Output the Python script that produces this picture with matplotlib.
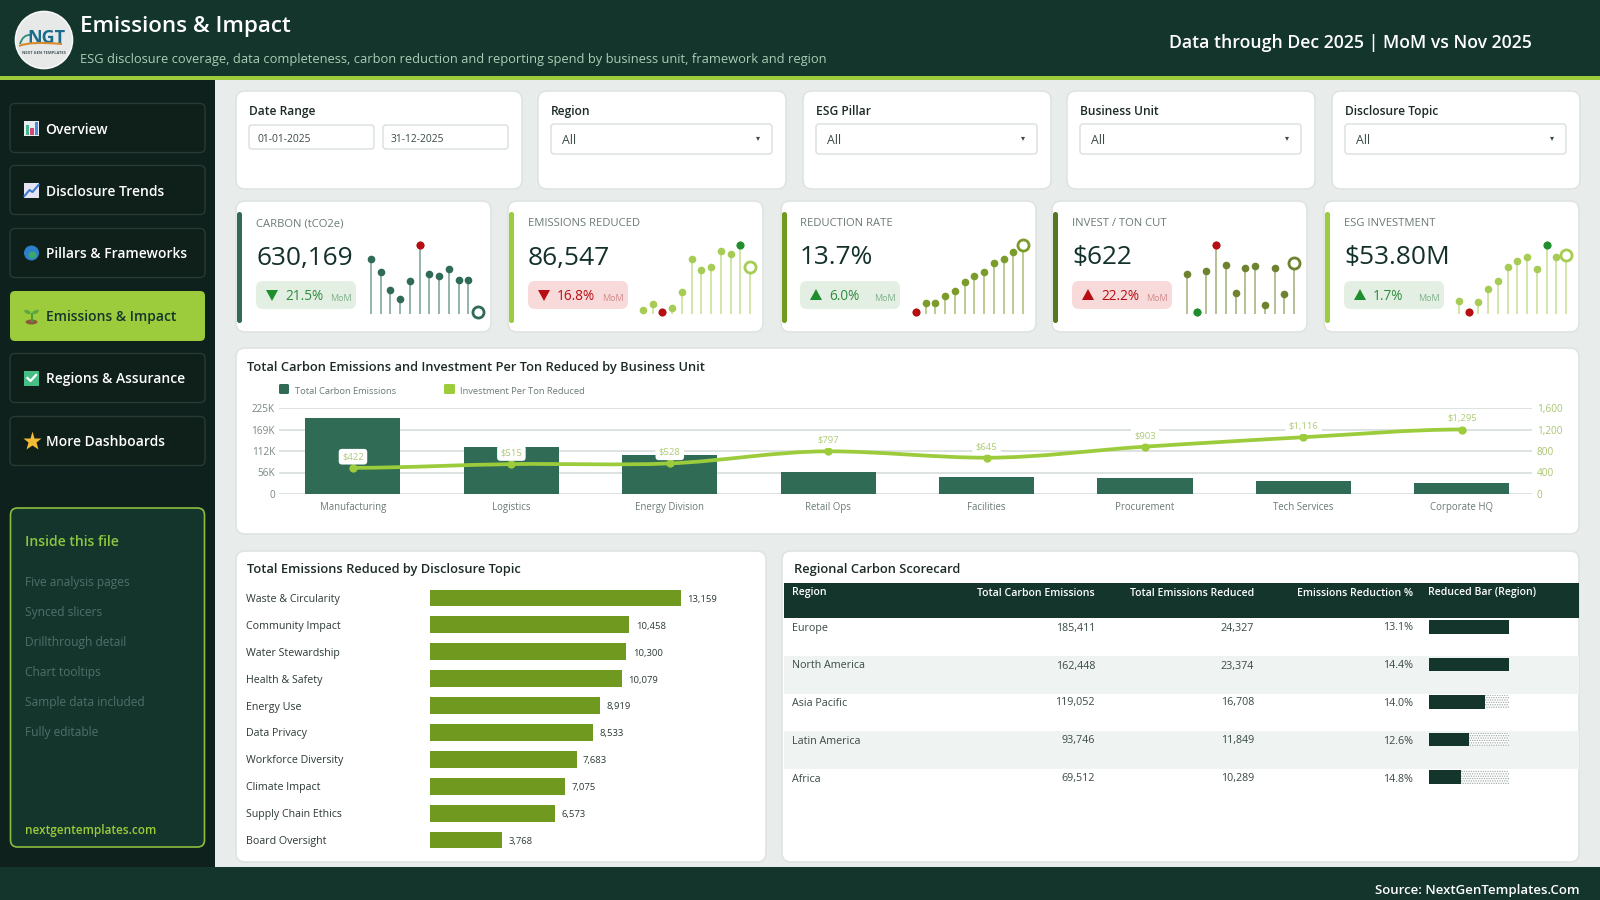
import matplotlib
matplotlib.use("Agg")
import matplotlib.pyplot as plt
from matplotlib.patches import FancyBboxPatch, Rectangle, Circle, Ellipse, Polygon, PathPatch
from matplotlib.path import Path

plt.rcParams["font.family"] = ["Open Sans", "Noto Sans", "DejaVu Sans"]
plt.rcParams["hatch.linewidth"] = 0.6

W, H = 1600, 900

DARK = "#14352C"
SIDE = "#0F211C"
LIME = "#9CCB3B"
OLIVE = "#6F9A1F"
MOSS = "#55771F"
TEAL = "#2F6B55"
RED = "#B80D12"
GREEN = "#1E8E2E"
GREY = "#6B7A75"

# sidebar
nav_labels = ["Overview", "Disclosure Trends", "Pillars & Frameworks", "Emissions & Impact", "Regions & Assurance", "More Dashboards"]
panel_items = ["Five analysis pages", "Synced slicers", "Drillthrough detail", "Chart tooltips", "Sample data included", "Fully editable"]

# slicers
filter_labels = ["Region", "ESG Pillar", "Business Unit", "Disclosure Topic"]

# kpi cards
kpi_labels = ["CARBON (tCO2e)", "EMISSIONS REDUCED", "REDUCTION RATE", "INVEST / TON CUT", "ESG INVESTMENT"]
kpi_values = ["630,169", "86,547", "13.7%", "$622", "$53.80M"]
kpi_changes = ["21.5%", "16.8%", "6.0%", "22.2%", "1.7%"]
kpi_arrow_up = [False, False, True, True, True]
kpi_good = [True, False, True, False, True]

# sparkline heights (relative units, 12 months)
carbon_spark = [165, 125, 73, 46, 100, 205, 118, 114, 133, 102, 102, 6]
reduced_spark = [13, 30, 6, 18, 66, 163, 130, 140, 188, 180, 205, 139]
rate_spark = [6, 32, 33, 55, 70, 96, 114, 125, 151, 165, 186, 206]
invest_spark = [120, 6, 129, 205, 147, 63, 138, 142, 28, 137, 59, 152]
esg_spark = [38, 6, 35, 76, 99, 139, 158, 170, 135, 205, 171, 176]

# combo chart
units = ["Manufacturing", "Logistics", "Energy Division", "Retail Ops", "Facilities", "Procurement", "Tech Services", "Corporate HQ"]
unit_emissions = [199000, 122000, 103000, 57000, 45000, 41000, 34000, 29000]
unit_invest_pos = [487, 556, 569, 794, 675, 881, 1056, 1200]
unit_invest_labels = ["$422", "$515", "$528", "$797", "$645", "$903", "$1,116", "$1,295"]
left_ticks = [0, 56250, 112500, 168750, 225000]
left_tick_labels = ["0", "56K", "112K", "169K", "225K"]
right_ticks = [0, 400, 800, 1200, 1600]
right_tick_labels = ["0", "400", "800", "1,200", "1,600"]

# topic bars
topics = ["Waste & Circularity", "Community Impact", "Water Stewardship", "Health & Safety", "Energy Use",
          "Data Privacy", "Workforce Diversity", "Climate Impact", "Supply Chain Ethics", "Board Oversight"]
topic_reduced = [13159, 10458, 10300, 10079, 8919, 8533, 7683, 7075, 6573, 3768]

# scorecard
regions = ["Europe", "North America", "Asia Pacific", "Latin America", "Africa"]
region_carbon = ["185,411", "162,448", "119,052", "93,746", "69,512"]
region_reduced = ["24,327", "23,374", "16,708", "11,849", "10,289"]
region_pct = ["13.1%", "14.4%", "14.0%", "12.6%", "14.8%"]
region_bar = [1.0, 1.0, 0.70, 0.50, 0.40]


def fs(px):
    return px * 0.72


fig = plt.figure(figsize=(16, 9), dpi=100, facecolor="#E8ECEA")
bg = fig.add_axes([0, 0, 1, 1])
bg.set_xlim(0, W)
bg.set_ylim(H, 0)
bg.axis("off")


def px_axes(x0, y0, x1, y1):
    ax = fig.add_axes([x0 / W, 1 - y1 / H, (x1 - x0) / W, (y1 - y0) / H])
    ax.patch.set_alpha(0)
    return ax


def box(x0, y0, x1, y1, fc, ec="none", r=8, lw=1.0, z=1):
    bg.add_patch(FancyBboxPatch((x0, y0), x1 - x0, y1 - y0, boxstyle=f"round,pad=0,rounding_size={r}",
                                fc=fc, ec=ec, lw=lw, zorder=z))


def rect(x0, y0, x1, y1, fc, z=1, **kw):
    bg.add_patch(Rectangle((x0, y0), x1 - x0, y1 - y0, fc=fc, ec="none", zorder=z, **kw))


# open sans sits a bit high with va=center, hence the 1.5
def txt(x, y, s, px, color="#1C2B27", weight="normal", ha="left", z=5):
    bg.text(x, y + 1.5, s, fontsize=fs(px), color=color, weight=weight, ha=ha, va="center", zorder=z)


def card(x0, y0, x1, y1):
    box(x0, y0, x1, y1, "white", ec="#DFE4E1", r=9, lw=1.2)


# frame
rect(0, 0, W, 76, DARK)
rect(0, 76, W, 80, LIME)
rect(0, 80, 215, 867, SIDE)
rect(0, 867, W, H, DARK)

# logo
bg.add_patch(Circle((44, 40), 28.5, fc="#E6E9E8", ec="#F6F7F7", lw=1.2, zorder=3))
bg.text(46, 38, "NGT", fontsize=fs(18), weight="bold", color="#1B6B8E", ha="center", va="center", zorder=5)
swoosh = Path([(19, 46), (30, 41), (62, 44)], [Path.MOVETO, Path.CURVE3, Path.CURVE3])
bg.add_patch(PathPatch(swoosh, fc="none", ec="#D98A2B", lw=1.5, zorder=6))
swoosh2 = Path([(20, 44), (23, 34), (31, 35)], [Path.MOVETO, Path.CURVE3, Path.CURVE3])
bg.add_patch(PathPatch(swoosh2, fc="none", ec="#2E8C7A", lw=1.3, zorder=4))
bg.text(44, 53, "NEXT GEN TEMPLATES", fontsize=fs(4), weight="bold", color="#44545A", ha="center", va="center", zorder=5)

# header text
txt(80, 25, "Emissions & Impact", 22.4, "white", 600)
txt(80, 58, "ESG disclosure coverage, data completeness, carbon reduction and reporting spend by business unit, framework and region", 12.95, "#A9CDB5")
txt(1532, 42, "Data through Dec 2025 | MoM vs Nov 2025", 17.6, "white", 600, ha="right")
txt(1580, 889, "Source: NextGenTemplates.Com", 13.2, "white", 600, ha="right")


# little nav icons, no colour emoji font here
def nav_icon(i, cx, cy):
    if i == 0:
        rect(cx - 7.5, cy - 7.5, cx + 7.5, cy + 7.5, "#E9EEF2", z=4)
        rect(cx - 6, cy - 3, cx - 2.5, cy + 7, "#45B58C", z=5)
        rect(cx - 1.5, cy + 0, cx + 2, cy + 7, "#D8457B", z=5)
        rect(cx + 3, cy - 6, cx + 6.5, cy + 7, "#4B8FD8", z=5)
    elif i == 1:
        rect(cx - 7.5, cy - 7.5, cx + 7.5, cy + 7.5, "#E6E4F2", z=4)
        bg.plot([cx - 7, cx - 2, cx + 1, cx + 7], [cy + 6, cy + 0, cy + 2, cy - 5], color="#3D7BD0", lw=1.5, zorder=5)
    elif i == 2:
        bg.add_patch(Circle((cx, cy), 7.5, fc="#2C80C9", ec="none", zorder=4))
        bg.add_patch(Ellipse((cx + 1, cy + 2), 8, 7, fc="#3FA66B", ec="none", zorder=5))
    elif i == 3:
        bg.add_patch(Ellipse((cx, cy + 6), 12, 5, fc="#8A5A3A", ec="none", zorder=4))
        bg.plot([cx, cx], [cy + 5, cy - 2], color="#4D9A3A", lw=1.4, zorder=5)
        bg.add_patch(Ellipse((cx - 4, cy - 4), 7, 3.5, angle=25, fc="#5AA83F", ec="none", zorder=5))
        bg.add_patch(Ellipse((cx + 4, cy - 4), 7, 3.5, angle=-25, fc="#5AA83F", ec="none", zorder=5))
    elif i == 4:
        rect(cx - 7.5, cy - 7.5, cx + 7.5, cy + 7.5, "#47BE85", z=4)
        bg.plot([cx - 4, cx - 1, cx + 4.5], [cy, cy + 3, cy - 3], color="white", lw=1.6, zorder=5)
    else:
        bg.plot([cx], [cy], marker="*", ms=14, color="#F2BC35", mec="none", zorder=5)


nav_y = [128, 190, 253, 316, 378, 441]
for i, (label, cy) in enumerate(zip(nav_labels, nav_y)):
    active = label == "Emissions & Impact"
    if active:
        box(10, cy - 25, 205, cy + 25, LIME, r=5)
    else:
        box(10, cy - 24.5, 205, cy + 24.5, "#0F1F1A", ec="#263C33", r=5, lw=1.0)
    nav_icon(i, 31.5, cy)
    txt(45.5, cy, label, 13.9, DARK if active else "white", 600)

# inside this file panel
box(10.5, 508, 204.5, 847, DARK, ec="#8BBD3F", r=7, lw=1.2)
txt(25, 540, "Inside this file", 14, "#8CC63F", 600)
for label, y in zip(panel_items, [581, 611, 641, 671, 701, 731]):
    txt(25, y, label, 12, "#4E706B")
txt(25, 829, "nextgentemplates.com", 11.8, LIME, 600)

# slicers
card(236, 91, 522, 189)
txt(249, 110, "Date Range", 12, "#1C2B27", 600)
for x0, x1, s in [(249, 374, "01-01-2025"), (383, 508, "31-12-2025")]:
    box(x0, 125, x1, 149, "white", ec="#D9DFDC", r=3)
    txt(x0 + 8, 137.5, s, 10.2, "#3A4A45")
for x0, label in zip([538, 803, 1067, 1332], filter_labels):
    x1 = x0 + 248
    card(x0, 91, x1, 189)
    txt(x0 + 13, 110, label, 12, "#1C2B27", 600)
    box(x0 + 13, 124, x1 - 14, 154, "white", ec="#D9DFDC", r=3)
    txt(x0 + 24, 138.5, "All", 12.4, "#3A4A45")
    txt(x1 - 30, 137.5, "▾", 8, "#3A4A45")

# kpi cards
card_x = [236, 508, 781, 1052, 1324]
badge_x = [256, 528, 800, 1072, 1344]
accents = [TEAL, LIME, OLIVE, MOSS, LIME]
dots = [TEAL, "#A6CC55", "#7B9C2A", "#6E8330", "#A6CC55"]
sparks = [carbon_spark, reduced_spark, rate_spark, invest_spark, esg_spark]

for i, cx in enumerate(card_x):
    card(cx, 201, cx + 255, 332)
    box(cx + 1, 212, cx + 6, 323, accents[i], r=2.5, z=2)
    bx = badge_x[i]
    txt(bx, 222.5, kpi_labels[i], 11.2, GREY)
    txt(bx, 256.5, kpi_values[i], 26.2, "#13302A", 500)
    good = kpi_good[i]
    box(bx, 281, bx + 100, 309, "#E3EFE3" if good else "#F8DADA", r=7, z=2)
    col = GREEN if good else RED
    if kpi_arrow_up[i]:
        tri = [(bx + 10, 300), (bx + 22, 300), (bx + 16, 289)]
    else:
        tri = [(bx + 10, 290), (bx + 22, 290), (bx + 16, 301)]
    bg.add_patch(Polygon(tri, fc=col, ec="none", zorder=4))
    txt(bx + 29, 295.5, kpi_changes[i], 13.6, "#2E8B3D" if good else RED)
    txt(bx + 96, 297, "MoM", 9, "#7FB08A" if good else "#D08A8A", ha="right")

    # lollipop sparkline
    vals = sparks[i]
    sx = px_axes(cx + 135, 245, cx + 242, 314)
    sx.set_xlim(0, 11)
    sx.set_ylim(0, 206)
    sx.axis("off")
    xs = list(range(12))
    sx.vlines(xs, 0, vals, color=dots[i], alpha=0.55, lw=1.3, clip_on=False)
    sx.plot(xs[:-1], vals[:-1], "o", color=dots[i], ms=5.5, mec="none", clip_on=False)
    sx.plot(xs[-1], vals[-1], "o", mfc="white", mec=dots[i], mew=2, ms=8, clip_on=False, zorder=4)
    body = vals[:-1]
    if max(vals) == max(body):
        top = body.index(max(body))
        sx.plot(top, body[top], "o", color=RED if i in (0, 3) else GREEN, ms=5.8, mec="none", clip_on=False, zorder=5)
    low = body.index(min(body))
    if i != 0:
        sx.plot(low, body[low], "o", color=GREEN if i == 3 else RED, ms=5.8, mec="none", clip_on=False, zorder=5)

# combo chart
card(236, 348, 1579, 534)
txt(247, 366, "Total Carbon Emissions and Investment Per Ton Reduced by Business Unit", 12.9, "#1C2B27", 600)
box(279, 384, 289, 394, TEAL, r=1.5, z=2)
txt(295, 390, "Total Carbon Emissions", 9.4, GREY)
box(444, 384, 455, 394, LIME, r=1.5, z=2)
txt(460, 390, "Investment Per Ton Reduced", 9.4, GREY)

ax = px_axes(279, 408, 1532, 494)
pos = list(range(len(units)))
ax.bar(pos, unit_emissions, width=0.6, color=TEAL, zorder=2)
ax.set_xlim(-0.467, 7.443)
ax.set_ylim(0, 225000)
ax.set_yticks(left_ticks, left_tick_labels, fontsize=fs(10), color="#7B8784")
ax.set_xticks(pos, units, fontsize=fs(9.6), color=GREY)
ax.tick_params(axis="both", length=0)
ax.tick_params(axis="x", pad=6)
ax.tick_params(axis="y", pad=3)
ax.grid(axis="y", color="#DDE3E1", lw=1.4, zorder=0)
ax.set_axisbelow(True)
for s in ax.spines.values():
    s.set_visible(False)

ax2 = ax.twinx()
ax2.patch.set_alpha(0)
ax2.set_ylim(0, 1600)
ax2.set_yticks(right_ticks, right_tick_labels, fontsize=fs(10), color="#A9C56F")
ax2.tick_params(axis="y", length=0, pad=3.5)
for s in ax2.spines.values():
    s.set_visible(False)

# smooth line through the points, flat tangent at local peaks
tang = []
n = len(pos)
for i in range(n):
    if i == 0 or i == n - 1:
        tang.append(0)
    elif (unit_invest_pos[i] - unit_invest_pos[i - 1]) * (unit_invest_pos[i + 1] - unit_invest_pos[i]) <= 0:
        tang.append(0)
    else:
        tang.append((unit_invest_pos[i + 1] - unit_invest_pos[i - 1]) / 2)
verts = [(pos[0], unit_invest_pos[0])]
codes = [Path.MOVETO]
for i in range(n - 1):
    verts += [(pos[i] + 1 / 3, unit_invest_pos[i] + tang[i] / 3),
              (pos[i + 1] - 1 / 3, unit_invest_pos[i + 1] - tang[i + 1] / 3),
              (pos[i + 1], unit_invest_pos[i + 1])]
    codes += [Path.CURVE4, Path.CURVE4, Path.CURVE4]
ax2.add_patch(PathPatch(Path(verts, codes), fc="none", ec=LIME, lw=2.7, zorder=3, capstyle="round"))
ax2.plot(pos, unit_invest_pos, "o", color=LIME, ms=6, mec="none", zorder=4)
for x, y, s in zip(pos, unit_invest_pos, unit_invest_labels):
    ax2.annotate(s, (x, y), xytext=(0, 8), textcoords="offset points", ha="center", va="center",
                 fontsize=fs(9.5), color="#AECB77", zorder=6,
                 bbox=dict(boxstyle="round,pad=0.35", fc="white", ec="none"))

# topic bars
card(236, 551, 766, 862)
txt(247, 568, "Total Emissions Reduced by Disclosure Topic", 12.9, "#1C2B27", 600)
bx = px_axes(430, 585, 766, 853)
rows = list(range(len(topics)))
bx.barh(rows, topic_reduced, height=0.62, color=OLIVE)
bx.set_xlim(0, 13159 * 336 / 251)
bx.set_ylim(9.48, -0.48)
bx.set_yticks(rows, topics, fontsize=fs(10.6), color="#2C3A36", ha="left")
bx.tick_params(axis="y", length=0, pad=184 * 0.72)
bx.set_xticks([])
for s in bx.spines.values():
    s.set_visible(False)
for y, v in zip(rows, topic_reduced):
    bx.annotate(f"{v:,}", (v, y), xytext=(4.5, -1), textcoords="offset points", va="center",
                fontsize=fs(9.5), color="#2C3A36")

# scorecard
card(782, 551, 1579, 862)
txt(794, 568, "Regional Carbon Scorecard", 12.9, "#1C2B27", 600)
rect(784, 583, 1579, 618, DARK, z=2)
header_y = 591.5
txt(792, header_y, "Region", 10.5, "white", 600)
txt(1095, header_y, "Total Carbon Emissions", 10.5, "white", 600, ha="right")
txt(1254, header_y, "Total Emissions Reduced", 10.5, "white", 600, ha="right")
txt(1413, header_y, "Emissions Reduction %", 10.5, "white", 600, ha="right")
txt(1428, header_y, "Reduced Bar (Region)", 10.5, "white", 600)

row_top = [618, 656, 693, 731, 769]
for i, top in enumerate(row_top):
    if i % 2 == 1:
        rect(784, top, 1579, top + 38, "#EFF3F1", z=2)
    y = top + 8.5
    txt(792, y, regions[i], 10.7, "#3A4A45")
    txt(1095, y, region_carbon[i], 10.7, "#3A4A45", ha="right")
    txt(1254, y, region_reduced[i], 10.7, "#3A4A45", ha="right")
    txt(1413, y, region_pct[i], 10.7, "#3A4A45", ha="right")

rx = px_axes(1428.5, 618, 1508.5, 805.5)
rx.set_xlim(0, 1)
rx.set_ylim(4.5, -0.5)
rx.axis("off")
rows = list(range(len(regions)))
centers = [r - 0.26 for r in rows]
rx.barh(centers, [1] * len(rows), height=0.35, color="white", edgecolor="#9AA5A1", hatch=".......", lw=0)
rx.barh(centers, region_bar, height=0.35, color=DARK)

fig.savefig("out.png", dpi=100, facecolor=fig.get_facecolor())
